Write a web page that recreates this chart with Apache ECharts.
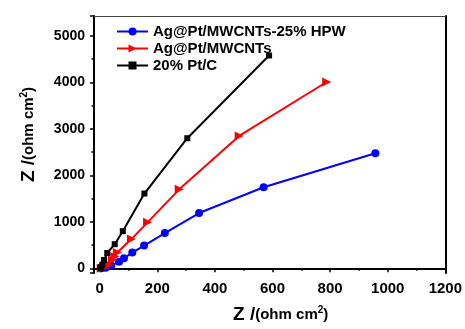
<!DOCTYPE html>
<html>
<head>
<meta charset="utf-8">
<script src="https://cdn.jsdelivr.net/npm/echarts@6/dist/echarts.min.js"></script>
<style>
  html, body { margin: 0; padding: 0; background: #fff; }
  #chart { width: 465px; height: 329px; }
</style>
</head>
<body>
<div id="chart"></div>
<script>
// series names (legend order)
var seriesNames = ['Ag@Pt/MWCNTs-25% HPW', 'Ag@Pt/MWCNTs', '20% Pt/C'];

// [Z', Z''] pairs
var hpwPoints = [[5, 0], [20, 15], [40, 60], [67, 140], [84, 215], [113, 340], [154, 490], [226, 760], [345, 1190], [569, 1745], [957, 2475]];
var agptPoints = [[5, 0], [15, 20], [32, 80], [44, 180], [52, 255], [61, 340], [110, 630], [166, 990], [276, 1700], [484, 2850], [788, 4010]];
var ptcPoints = [[2, 5], [5, 30], [9, 80], [15, 180], [26, 330], [52, 520], [80, 800], [155, 1610], [304, 2800], [588, 4580]];

var xRange = [-20, 1200];
var yRange = [-100, 5430];

var font = 'Liberation Sans, Arial, sans-serif';
var axisName = '{a|Z /}{b|(ohm cm}{c|2}{b|)}';
var nameRich = {
  a: { fontSize: 19, fontWeight: 'bold', fontFamily: font, color: '#000' },
  b: { fontSize: 15, fontWeight: 'bold', fontFamily: font, color: '#000' },
  c: { fontSize: 10, fontWeight: 'bold', fontFamily: font, color: '#000', verticalAlign: 'top', lineHeight: 12 }
};
var plain = function (v) { return String(v); };

var chart = echarts.init(document.getElementById('chart'));

chart.setOption({
  animation: false,
  grid: { left: 94, right: 19, top: 16, bottom: 56 },
  legend: {
    orient: 'vertical',
    left: 111, top: 19,
    itemWidth: 31, itemHeight: 10, itemGap: 2,
    textStyle: { fontSize: 15, fontWeight: 'bold', fontFamily: font, color: '#000' },
    data: seriesNames
  },
  xAxis: [{
    type: 'value',
    min: xRange[0], max: xRange[1], splitNumber: 6,
    name: axisName,
    nameLocation: 'middle', nameGap: 32,
    nameTextStyle: { rich: nameRich, padding: [0, 0, 0, 22] },
    axisLine: { lineStyle: { color: '#000', width: 2 } },
    axisTick: { length: 4, lineStyle: { color: '#000', width: 1.5 } },
    minorTick: { show: true, splitNumber: 2, length: 2.5, lineStyle: { color: '#000', width: 1.5 } },
    axisLabel: { showMinLabel: false, formatter: plain, margin: 8, fontSize: 15, fontWeight: 'bold', fontFamily: font, color: '#000' },
    splitLine: { show: false }
  }, {
    type: 'value', position: 'top',
    min: xRange[0], max: xRange[1],
    axisLine: { onZero: false, lineStyle: { color: '#444', width: 1 } },
    axisTick: { show: false }, axisLabel: { show: false }, splitLine: { show: false }
  }],
  yAxis: [{
    type: 'value',
    min: yRange[0], max: yRange[1], splitNumber: 5,
    name: axisName,
    nameLocation: 'middle', nameGap: 56,
    nameTextStyle: { rich: nameRich, padding: [0, 0, 0, 20] },
    axisLine: { show: true, onZero: false, lineStyle: { color: '#000', width: 2 } },
    axisTick: { show: true, length: 4, lineStyle: { color: '#000', width: 1.5 } },
    minorTick: { show: true, splitNumber: 2, length: 2.5, lineStyle: { color: '#000', width: 1.5 } },
    axisLabel: { showMinLabel: false, showMaxLabel: false, formatter: plain, margin: 9, fontSize: 14, fontWeight: 'bold', fontFamily: font, color: '#000' },
    splitLine: { show: false }
  }, {
    type: 'value', position: 'right',
    min: yRange[0], max: yRange[1],
    axisLine: { show: true, onZero: false, lineStyle: { color: '#000', width: 2 } },
    axisTick: { show: false }, axisLabel: { show: false }, splitLine: { show: false }
  }],
  series: [{
    name: seriesNames[0], type: 'line', data: hpwPoints,
    symbol: 'circle', symbolSize: 8,
    itemStyle: { color: '#0000ff' }, lineStyle: { color: '#0000ff', width: 2 }
  }, {
    name: seriesNames[1], type: 'line', data: agptPoints,
    symbol: 'triangle', symbolSize: 9, symbolRotate: -90,
    itemStyle: { color: '#ff0000' }, lineStyle: { color: '#ff0000', width: 2 }
  }, {
    name: seriesNames[2], type: 'line', data: ptcPoints,
    symbol: 'rect', symbolSize: 6,
    itemStyle: { color: '#000' }, lineStyle: { color: '#000', width: 2 }
  }]
});
</script>
</body>
</html>
